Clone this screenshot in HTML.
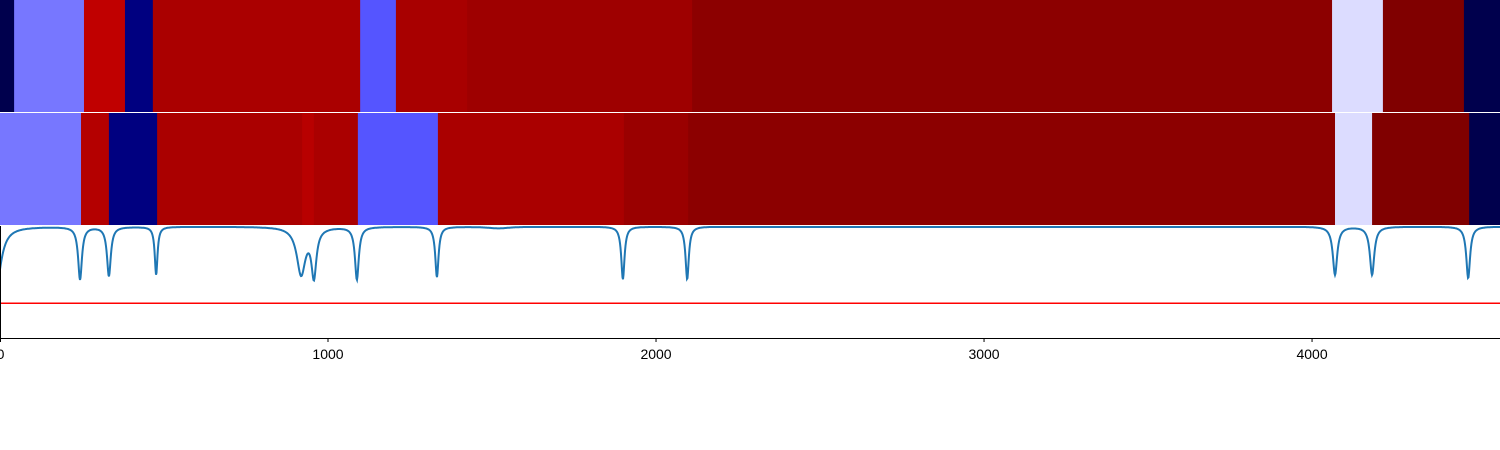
<!DOCTYPE html>
<html><head><meta charset="utf-8"><style>
html,body{margin:0;padding:0;background:#fff;width:1500px;height:450px;overflow:hidden}
svg{display:block;font-family:"Liberation Sans","DejaVu Sans",sans-serif}
</style></head><body>
<svg id="chart" width="1500" height="450" viewBox="0 0 1500 450">
<g id="rows"></g><g id="line"></g><g id="axis"></g>
</svg>
<script>
// data
const xMax = 4573;
const row1Bounds = [0,43,256,381,466,1098,1207,1424,2110,4061,4216,4463,4573];
const row1Values = [0.0,0.367,0.874,0.072,0.917,0.333,0.92,0.94,0.975,0.466,1.0,0.0];
const row2Bounds = [0,247,332,479,921,957,1091,1335,1902,2098,4070,4183,4479,4573];
const row2Values = [0.367,0.897,0.072,0.917,0.889,0.917,0.333,0.917,0.948,0.975,0.466,1.0,0.0];
const dipCenters = [-12,244,332,476,918,957,1088,1332,1520,1899,2095,4070,4183,4476];
const dipDepths  = [0.55,0.47,0.44,0.43,0.42,0.42,0.47,0.45,0.015,0.47,0.47,0.43,0.43,0.46];
const dipWidths  = [18,7,7,5,16,9,7,6,40,6,6,8,8,7];
const baseline = 0.995;
const threshold = 0.31;
const xTicks = [0,1000,2000,3000,4000];

const NS="http://www.w3.org/2000/svg";
const W=1500;
const xs = v => v/xMax*W;
const ys = v => 338 - v*112;
function seismic(v){
  const stops=[[0,[0,0,0.3]],[0.25,[0,0,1]],[0.5,[1,1,1]],[0.75,[1,0,0]],[1,[0.5,0,0]]];
  v=Math.max(0,Math.min(1,v));
  for(let i=1;i<stops.length;i++){ if(v<=stops[i][0]){const a=stops[i-1],b=stops[i];const t=(v-a[0])/(b[0]-a[0]);
    const c=a[1].map((x,k)=>Math.round(255*(x+(b[1][k]-x)*t)));return `rgb(${c})`;}}
  return 'rgb(128,0,0)';
}
const rows=document.getElementById('rows');
function drawRow(bounds,vals,y0,h,name){
  for(let i=0;i<vals.length;i++){
    const r=document.createElementNS(NS,'rect');
    r.setAttribute('x',xs(bounds[i]));r.setAttribute('y',y0);
    r.setAttribute('width',xs(bounds[i+1])-xs(bounds[i])+0.5);r.setAttribute('height',h);
    r.setAttribute('fill',seismic(vals[i]));
    
    
    rows.appendChild(r);
  }
}
drawRow(row1Bounds,row1Values,0,112,'row1');
drawRow(row2Bounds,row2Values,113,112,'row2');

const lg=document.getElementById('line');
const th=document.createElementNS(NS,'line');
th.setAttribute('x1',0);th.setAttribute('x2',W);th.setAttribute('y1',ys(threshold));th.setAttribute('y2',ys(threshold));
th.setAttribute('stroke','#ff0000');th.setAttribute('stroke-width','1.5');


lg.appendChild(th);
let d='';
for(let px=0;px<=W;px+=0.5){
  const x=px/W*xMax; let v=baseline;
  for(let i=0;i<dipCenters.length;i++){const dx=x-dipCenters[i],w=dipWidths[i];v-=dipDepths[i]*w*w/(dx*dx+w*w);}
  d+=(px?'L':'M')+px.toFixed(1)+','+Math.max(227,ys(v)).toFixed(1);
}
const p=document.createElementNS(NS,'path');
p.setAttribute('d',d);p.setAttribute('fill','none');p.setAttribute('stroke','#1f77b4');p.setAttribute('stroke-width','2');


lg.appendChild(p);

const ax=document.getElementById('axis');
const mk=(tag,attrs)=>{const e=document.createElementNS(NS,tag);for(const k in attrs)e.setAttribute(k,attrs[k]);ax.appendChild(e);return e;};
const sp=mk('path',{d:'M0.5,226V338.5H1500',fill:'none',stroke:'#000','stroke-width':1});


xTicks.forEach(t=>{
  const x=Math.max(0.5,xs(t));
  const tk=mk('line',{x1:x,x2:x,y1:338,y2:342,stroke:'#000'});
  
  
  const tx=mk('text',{x:x,y:359,'text-anchor':'middle','font-size':14,fill:'#000'});
  tx.textContent=t;
  
  
});
</script>
</body></html>
